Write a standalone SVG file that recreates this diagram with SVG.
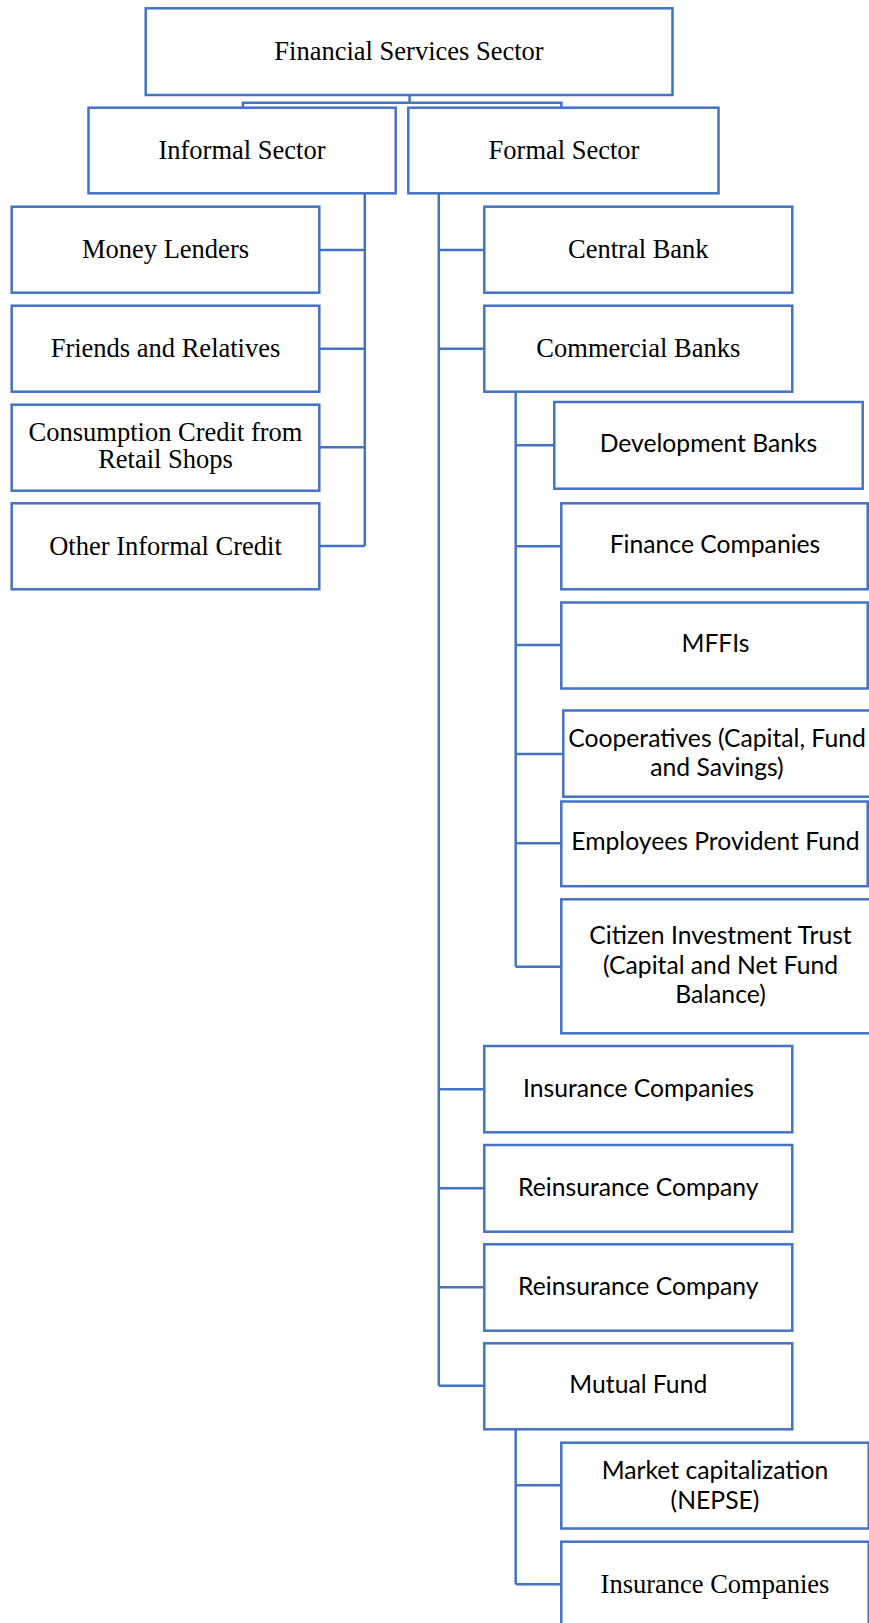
<svg xmlns="http://www.w3.org/2000/svg" width="869" height="1623" viewBox="0 0 869 1623">
  <style>
    .box { fill: #ffffff; stroke: #4472C4; stroke-width: 2.5; }
    .link { fill: none; stroke: #4472C4; stroke-width: 2.5; }
    .serif { font-family: "Liberation Serif", "Times New Roman", serif; font-size: 26.5px; fill: #000; text-anchor: middle; }
    .sans { font-family: Lato, "Noto Sans", sans-serif; font-size: 24.7px; fill: #000; text-anchor: middle; }
  </style>
  <rect width="869" height="1623" fill="#ffffff"/>

  <!-- connectors -->
  <g id="connectors" class="link">
    <!-- root to sectors -->
    <polyline points="409.6,95 409.6,102.7"/>
    <polyline points="242.9,107.7 242.9,102.7 561.4,102.7 561.4,107.7"/>
    <!-- informal sector branches -->
    <line x1="364.8" y1="193.3" x2="364.8" y2="546"/>
    <line x1="319.3" y1="250" x2="364.8" y2="250"/>
    <line x1="319.3" y1="348.7" x2="364.8" y2="348.7"/>
    <line x1="319.3" y1="447.3" x2="364.8" y2="447.3"/>
    <line x1="319.3" y1="546" x2="364.8" y2="546"/>
    <!-- formal sector branches -->
    <line x1="438.8" y1="193.3" x2="438.8" y2="1385.7"/>
    <line x1="438.8" y1="250" x2="484.3" y2="250"/>
    <line x1="438.8" y1="348.7" x2="484.3" y2="348.7"/>
    <line x1="438.8" y1="1089.3" x2="484.3" y2="1089.3"/>
    <line x1="438.8" y1="1188.3" x2="484.3" y2="1188.3"/>
    <line x1="438.8" y1="1287.3" x2="484.3" y2="1287.3"/>
    <line x1="438.8" y1="1385.7" x2="484.3" y2="1385.7"/>
    <!-- commercial banks branches -->
    <line x1="515.7" y1="391.7" x2="515.7" y2="966.7"/>
    <line x1="515.7" y1="445.3" x2="554.3" y2="445.3"/>
    <line x1="515.7" y1="546.3" x2="561.3" y2="546.3"/>
    <line x1="515.7" y1="645" x2="561.3" y2="645"/>
    <line x1="515.7" y1="754" x2="563.3" y2="754"/>
    <line x1="515.7" y1="843.3" x2="561.3" y2="843.3"/>
    <line x1="515.7" y1="966.7" x2="561.3" y2="966.7"/>
    <!-- mutual fund branches -->
    <line x1="515.7" y1="1429.3" x2="515.7" y2="1584.3"/>
    <line x1="515.7" y1="1485.3" x2="561.3" y2="1485.3"/>
    <line x1="515.7" y1="1584.3" x2="561.3" y2="1584.3"/>
  </g>

  <g id="financial-services-sector">
    <rect class="box" x="145.7" y="8.3" width="526.8" height="86.7"/>
    <text class="serif" x="409" y="60">Financial Services Sector</text>
  </g>
  <g id="informal-sector">
    <rect class="box" x="88.5" y="107.7" width="307.2" height="85.6"/>
    <text class="serif" x="242" y="159">Informal Sector</text>
  </g>
  <g id="formal-sector">
    <rect class="box" x="408.3" y="107.7" width="310.2" height="85.6"/>
    <text class="serif" x="564" y="159">Formal Sector</text>
  </g>

  <g id="money-lenders">
    <rect class="box" x="11.7" y="206.7" width="307.6" height="86"/>
    <text class="serif" x="165.5" y="258">Money Lenders</text>
  </g>
  <g id="friends-relatives">
    <rect class="box" x="11.7" y="305.7" width="307.6" height="86"/>
    <text class="serif" x="165.5" y="356.7">Friends and Relatives</text>
  </g>
  <g id="consumption-credit">
    <rect class="box" x="11.7" y="404.7" width="307.6" height="86"/>
    <text class="serif" x="165.5" y="440.7">Consumption Credit from</text>
    <text class="serif" x="165.5" y="467.7">Retail Shops</text>
  </g>
  <g id="other-informal-credit">
    <rect class="box" x="11.7" y="503.3" width="307.6" height="86"/>
    <text class="serif" x="165.5" y="554.5">Other Informal Credit</text>
  </g>

  <g id="central-bank">
    <rect class="box" x="484.3" y="206.7" width="308" height="86"/>
    <text class="serif" x="638.3" y="257.7">Central Bank</text>
  </g>
  <g id="commercial-banks">
    <rect class="box" x="484.3" y="305.7" width="308" height="86"/>
    <text class="serif" x="638.3" y="356.7">Commercial Banks</text>
  </g>

  <g id="development-banks">
    <rect class="box" x="554.3" y="402" width="308.4" height="86.7"/>
    <text class="sans" x="708.5" y="451.7">Development Banks</text>
  </g>
  <g id="finance-companies">
    <rect class="box" x="561.3" y="503.3" width="306.4" height="86"/>
    <text class="sans" x="715" y="553.3">Finance Companies</text>
  </g>
  <g id="mffis">
    <rect class="box" x="561.3" y="602.5" width="306.4" height="86"/>
    <text class="sans" x="715.5" y="652.3">MFFIs</text>
  </g>
  <g id="cooperatives">
    <rect class="box" x="563.3" y="710.5" width="308" height="86.2"/>
    <text class="sans" x="717" y="746.7">Cooperatives (Capital, Fund</text>
    <text class="sans" x="717" y="776">and Savings)</text>
  </g>
  <g id="employees-provident-fund">
    <rect class="box" x="561.3" y="801.5" width="306.4" height="84.7"/>
    <text class="sans" x="715.5" y="850">Employees Provident Fund</text>
  </g>
  <g id="citizen-investment-trust">
    <rect class="box" x="561.3" y="899.3" width="319" height="134"/>
    <text class="sans" x="720.5" y="944">Citizen Investment Trust</text>
    <text class="sans" x="720.5" y="973.5">(Capital and Net Fund</text>
    <text class="sans" x="720.5" y="1003.3">Balance)</text>
  </g>

  <g id="insurance-companies">
    <rect class="box" x="484.3" y="1046" width="308" height="86.3"/>
    <text class="sans" x="638.5" y="1096.7">Insurance Companies</text>
  </g>
  <g id="reinsurance-company-1">
    <rect class="box" x="484.3" y="1145" width="308" height="86.7"/>
    <text class="sans" x="638.3" y="1196">Reinsurance Company</text>
  </g>
  <g id="reinsurance-company-2">
    <rect class="box" x="484.3" y="1244.3" width="308" height="86.4"/>
    <text class="sans" x="638.3" y="1295">Reinsurance Company</text>
  </g>
  <g id="mutual-fund">
    <rect class="box" x="484.3" y="1343.3" width="308" height="86"/>
    <text class="sans" x="638.3" y="1393.3">Mutual Fund</text>
  </g>

  <g id="market-capitalization">
    <rect class="box" x="561.3" y="1442.7" width="307.4" height="85.8"/>
    <text class="sans" x="715" y="1479.3">Market capitalization</text>
    <text class="sans" x="715" y="1509.3">(NEPSE)</text>
  </g>
  <g id="insurance-companies-nepse">
    <rect class="box" x="561.3" y="1541.7" width="307.4" height="100"/>
    <text class="serif" x="715" y="1592.7">Insurance Companies</text>
  </g>
</svg>
